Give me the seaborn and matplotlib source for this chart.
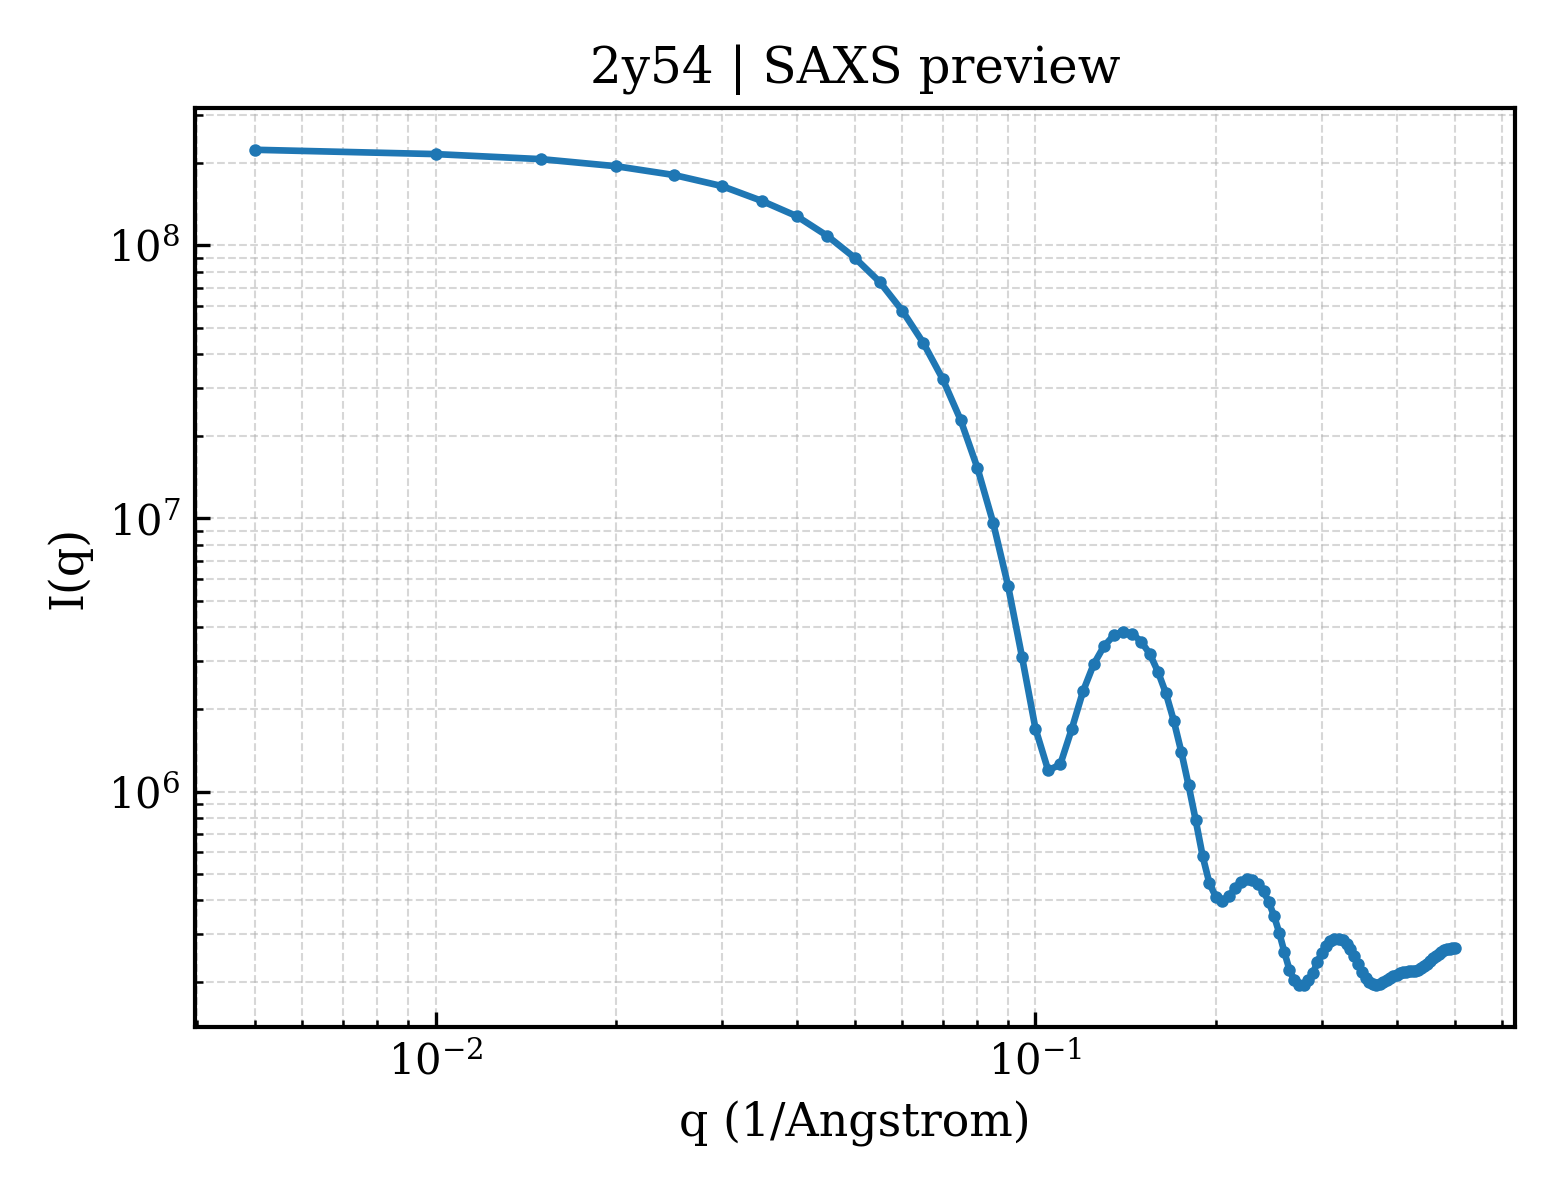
import matplotlib
matplotlib.use('Agg')
import matplotlib.pyplot as plt
import seaborn as sns
import pandas as pd

q = [0.005, 0.010, 0.015, 0.020, 0.025, 0.030, 0.035, 0.040, 0.045, 0.050,
     0.055, 0.060, 0.065, 0.070, 0.075, 0.080, 0.085, 0.090, 0.095, 0.100,
     0.105, 0.110, 0.115, 0.120, 0.125, 0.130, 0.135, 0.140, 0.145, 0.150,
     0.155, 0.160, 0.165, 0.170, 0.175, 0.180, 0.185, 0.190, 0.195, 0.200,
     0.205, 0.210, 0.215, 0.220, 0.225, 0.230, 0.235, 0.240, 0.245, 0.250,
     0.255, 0.260, 0.265, 0.270, 0.275, 0.280, 0.285, 0.290, 0.295, 0.300,
     0.305, 0.310, 0.315, 0.320, 0.325, 0.330, 0.335, 0.340, 0.345, 0.350,
     0.355, 0.360, 0.365, 0.370, 0.375, 0.380, 0.385, 0.390, 0.395, 0.400,
     0.405, 0.410, 0.415, 0.420, 0.425, 0.430, 0.435, 0.440, 0.445, 0.450,
     0.455, 0.460, 0.465, 0.470, 0.475, 0.480, 0.485, 0.490, 0.495, 0.500]

intensity = [2.24e8, 2.16e8, 2.07e8, 1.95e8, 1.81e8, 1.65e8, 1.455e8, 1.28e8, 1.083e8, 9.00e7,
             7.35e7, 5.76e7, 4.40e7, 3.25e7, 2.30e7, 1.535e7, 9.65e6, 5.68e6, 3.10e6, 1.70e6,
             1.195e6, 1.257e6, 1.70e6, 2.325e6, 2.92e6, 3.40e6, 3.73e6, 3.85e6, 3.79e6, 3.54e6,
             3.20e6, 2.75e6, 2.29e6, 1.82e6, 1.40e6, 1.053e6, 7.84e5, 5.79e5, 4.61e5, 4.10e5,
             3.96e5, 4.13e5, 4.42e5, 4.65e5, 4.77e5, 4.73e5, 4.57e5, 4.31e5, 3.93e5, 3.49e5,
             3.03e5, 2.58e5, 2.23e5, 2.04e5, 1.95e5, 1.95e5, 2.04e5, 2.16e5, 2.37e5, 2.56e5,
             2.71e5, 2.83e5, 2.88e5, 2.88e5, 2.85e5, 2.76e5, 2.64e5, 2.49e5, 2.33e5, 2.18e5,
             2.07e5, 2.00e5, 1.97e5, 1.96e5, 1.97e5, 2.00e5, 2.04e5, 2.07e5, 2.11e5, 2.13e5,
             2.16e5, 2.18e5, 2.19e5, 2.20e5, 2.20e5, 2.21e5, 2.23e5, 2.25e5, 2.29e5, 2.34e5,
             2.40e5, 2.45e5, 2.50e5, 2.55e5, 2.59e5, 2.62e5, 2.64e5, 2.66e5, 2.67e5, 2.68e5]

df = pd.DataFrame({'q': q, 'I': intensity})

sns.set_theme(style='ticks')
plt.rcParams['font.family'] = ['DejaVu Serif']
plt.rcParams['mathtext.fontset'] = 'dejavuserif'
plt.rcParams['text.color'] = 'black'
plt.rcParams['axes.labelcolor'] = 'black'
plt.rcParams['xtick.direction'] = 'in'
plt.rcParams['ytick.direction'] = 'in'
plt.rcParams['xtick.minor.visible'] = True
plt.rcParams['ytick.minor.visible'] = True

fig, ax = plt.subplots(figsize=(5.2, 4), dpi=300)
sns.lineplot(data=df, x='q', y='I', ax=ax, color='#1f77b4',
             marker='o', markersize=3.0, markeredgewidth=0, linewidth=1.6)
ax.set_xscale('log')
ax.set_yscale('log')
ax.grid(True, which='both', linestyle='--', linewidth=0.5, color='#b0b0b0', alpha=0.5)
ax.tick_params(which='major', length=3.5, width=0.8, labelsize=10, colors='black')
ax.tick_params(which='minor', length=1.8, width=0.6, colors='black')
for s in ax.spines.values():
    s.set_color('black')
    s.set_linewidth(1.0)

ax.set_title('2y54 | SAXS preview', fontsize=12, color='black')
ax.set_xlabel('q (1/Angstrom)', fontsize=11)
ax.set_ylabel('I(q)', fontsize=11)

plt.subplots_adjust(left=0.125, right=0.971, top=0.91, bottom=0.144)
plt.savefig('out.png', dpi=300)
